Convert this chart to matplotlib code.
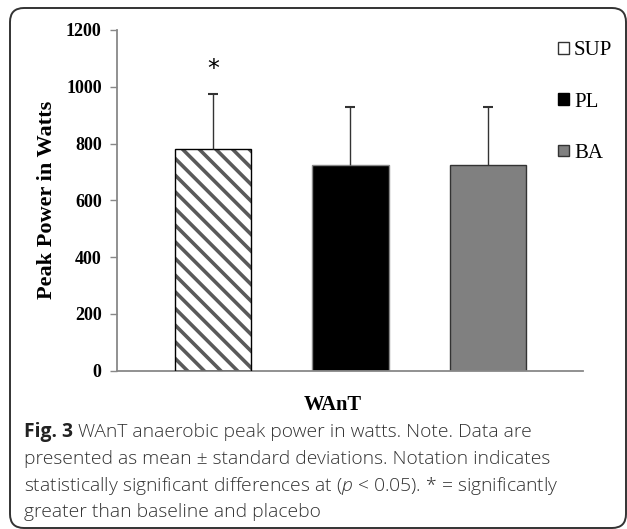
import numpy as np
import matplotlib
matplotlib.use("Agg")
import matplotlib.pyplot as plt
from matplotlib.patches import FancyBboxPatch, Patch
from matplotlib.transforms import IdentityTransform

# data
groups = ["SUP", "PL", "BA"]
means = [782, 723, 723]
sds = [192, 207, 205]
star_y = 1062

W, H, DPI = 627, 529, 100
plt.rcParams['mathtext.fontset'] = 'custom'
plt.rcParams['mathtext.it'] = 'Open Sans:italic:light'
plt.rcParams['mathtext.rm'] = 'Open Sans:light'
fig = plt.figure(figsize=(W / DPI, H / DPI), dpi=DPI)
ax = fig.add_axes([117 / W, 1 - 370.7 / H, (583 - 117) / W, (370.7 - 30) / H])

serif = "Liberation Serif"
x = np.arange(len(groups))
bw = 0.553
plt.rcParams['hatch.linewidth'] = 2.6

# SUP: hatched bar (hatch drawn in grey, outline on top in black)
ax.bar(x[0], means[0], bw, color="white", edgecolor="#5a5a5a", hatch="\\\\", linewidth=0, zorder=2)
ax.bar(x[0], means[0], bw, color="none", edgecolor="black", linewidth=1.0, zorder=3)
ax.bar(x[1], means[1], bw, color="black", edgecolor="#888888", linewidth=1.0, zorder=2)
ax.bar(x[2], means[2], bw, color="#808080", edgecolor="#333333", linewidth=1.0, zorder=2)

# upper error bars only (no cap at the bar top)
tops = np.array(means) + np.array(sds)
ax.vlines(x, means, tops, color="#333333", linewidth=1.0, zorder=4)
ax.plot(x, tops, linestyle="none", marker="_", markersize=7, markeredgewidth=1.5,
        color="#333333", zorder=4)
ax.text(x[0], star_y, "*", ha="center", va="center", fontsize=17, family="DejaVu Sans")

ax.set_xlim(-0.698, 2.691)
ax.set_ylim(0, 1200)
ax.set_yticks([0, 200, 400, 600, 800, 1000, 1200])
ax.set_xticks([])
for s in ["top", "right"]:
    ax.spines[s].set_visible(False)
for s in ["left", "bottom"]:
    ax.spines[s].set_color("#888888")
    ax.spines[s].set_linewidth(1.3)
ax.tick_params(axis="y", length=5, color="#888888", width=1, pad=6)
for lab in ax.get_yticklabels():
    lab.set_fontfamily(serif)
    lab.set_fontweight("bold")
    lab.set_fontsize(13)

ax.set_ylabel("Peak Power in Watts", family=serif, weight="bold", fontsize=16)
ax.yaxis.set_label_coords((47 - 117) / (583 - 117), 0.5)
ax.set_xlabel("WAnT", family=serif, weight="bold", fontsize=14.8)
ax.xaxis.set_label_coords((333 - 117) / (583 - 117), -(405 - 370.7) / (370.7 - 30))
ax.xaxis.label.set_va("center")
ax.yaxis.label.set_va("center")

handles = [Patch(facecolor="white", edgecolor="#333333", linewidth=1),
           Patch(facecolor="black", edgecolor="black", linewidth=1),
           Patch(facecolor="#808080", edgecolor="#333333", linewidth=1)]
leg = ax.legend(handles, groups, loc="upper left", bbox_to_anchor=(550 / W, 1 - 33 / H),
                bbox_transform=fig.transFigure, frameon=False,
                prop={"family": serif, "size": 15}, handlelength=0.5, handleheight=0.5,
                handletextpad=0.25, labelspacing=1.55, borderaxespad=0)

# outer rounded frame
frame = FancyBboxPatch((10, 1), 616, 520, boxstyle="round,pad=0,rounding_size=14",
                       transform=IdentityTransform(), facecolor="none",
                       edgecolor="#333333", linewidth=1.4)
fig.patches.append(frame)

# caption
cap_font = "Open Sans"
cap_size = 13.85
cx, cy = 24 / W, 1 - 432 / H
t0 = fig.text(cx, cy, "Fig. 3", family=cap_font, weight="bold", fontsize=cap_size,
              va="center", color="#222222")
fig.canvas.draw()
bb = t0.get_window_extent()
fig.text(bb.x1 / W + 5 / W, cy, "WAnT anaerobic peak power in watts. Note. Data are",
         family=cap_font, weight="light", fontsize=cap_size, va="center", color="#333333")
rest = ["presented as mean \u00b1 standard deviations. Notation indicates",
        "statistically significant differences at ($\\mathit{p}$ < 0.05). * = significantly",
        "greater than baseline and placebo"]
for i, line in enumerate(rest):
    fig.text(cx, cy - (i + 1) * 26.8 / H, line, family=cap_font, weight="light",
             fontsize=cap_size, va="center", color="#333333")

fig.savefig("out.png", dpi=DPI)
